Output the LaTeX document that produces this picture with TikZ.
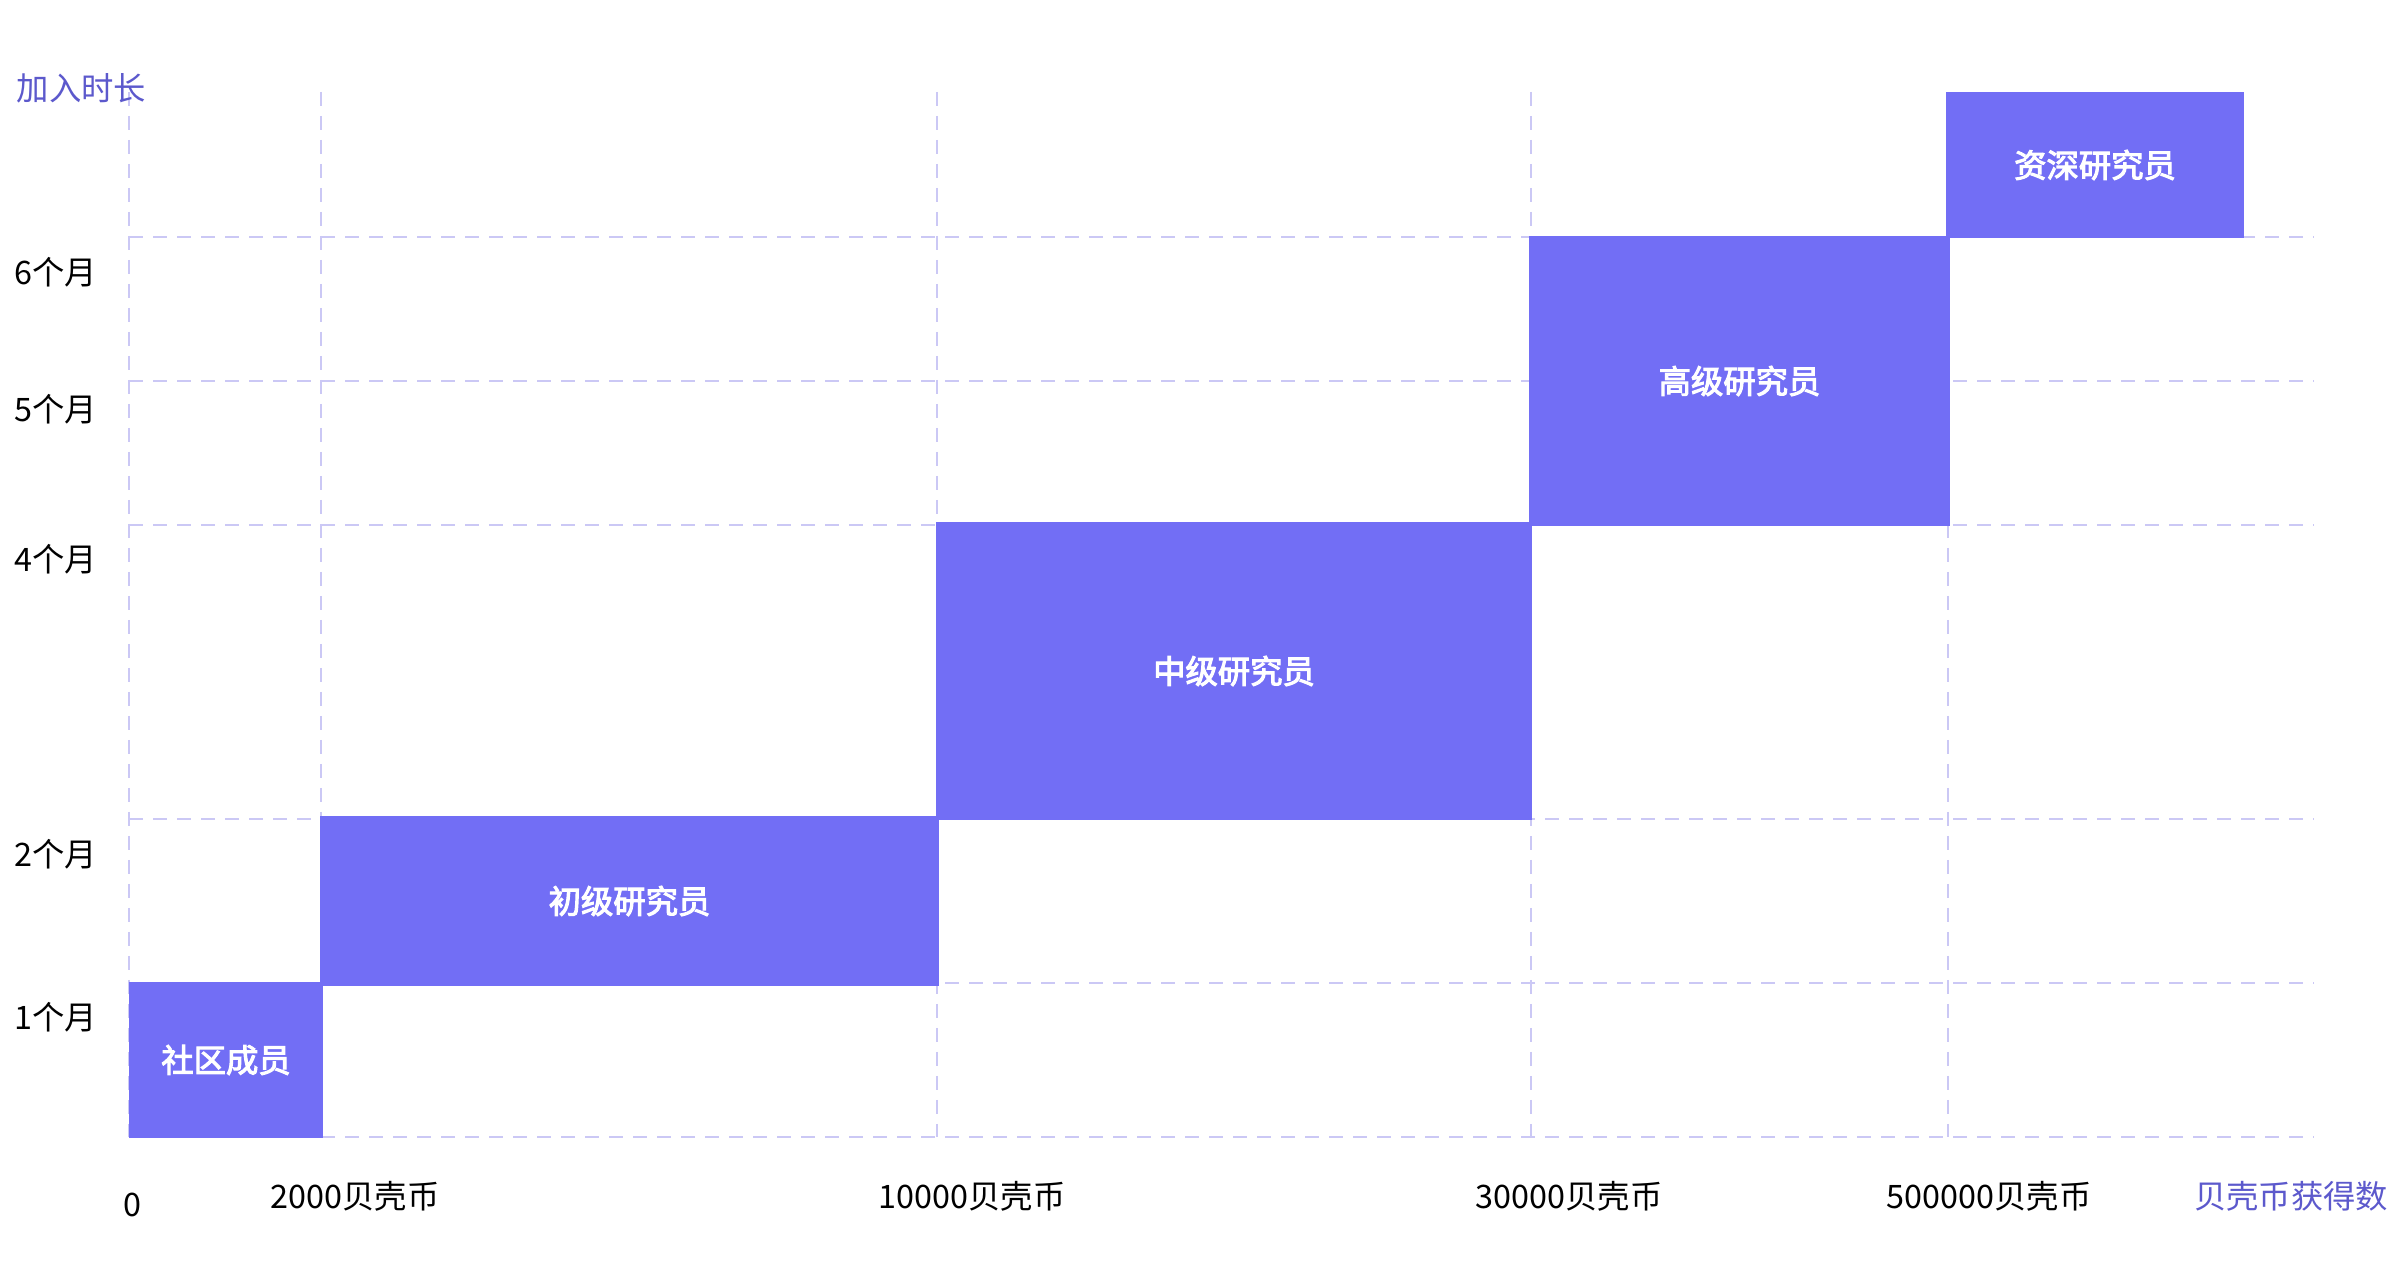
\documentclass[tikz,border=0pt]{standalone}
\usepackage{fontspec}
\setmainfont{Noto Sans CJK SC}
\usepackage{tikz}
\definecolor{boxfill}{HTML}{726EF5}
\definecolor{gridcol}{HTML}{CBC8F5}
\definecolor{titlecol}{HTML}{5C59CC}
% medium weight for the white box labels
\newcommand{\medlabel}[1]{\special{pdf:literal direct 2 Tr 0.3 w 1 1 1 RG}#1\special{pdf:literal direct 0 Tr}}

\begin{document}
\begin{tikzpicture}[x=0.1mm,y=-0.1mm,
  dashline/.style={draw=gridcol,line width=0.2mm,dash pattern=on 1.4mm off 1mm},
  level/.style={fill=boxfill,shape=rectangle,inner sep=0pt,text=white,font=\fontsize{9.2pt}{11pt}\selectfont},
  tick/.style={inner sep=0pt,font=\fontsize{9.2pt}{11pt}\selectfont},
  axistitle/.style={inner sep=0pt,text=titlecol,font=\fontsize{9.2pt}{11pt}\selectfont}]
\useasboundingbox (0,0) rectangle (2400,1276);

% grid
\draw[dashline] (129,92) -- (129,1137);
\draw[dashline] (321,92) -- (321,1137);
\draw[dashline] (937,92) -- (937,1137);
\draw[dashline] (1531,92) -- (1531,1137);
\draw[dashline] (1948,92) -- (1948,1137);
\draw[dashline] (129,237) -- (2314,237);
\draw[dashline] (129,381) -- (2314,381);
\draw[dashline] (129,525) -- (2314,525);
\draw[dashline] (129,819) -- (2314,819);
\draw[dashline] (129,983) -- (2314,983);
\draw[dashline] (129,1137) -- (2314,1137);

% levels
\node (member) [level,minimum width=19.4mm,minimum height=15.6mm] at (226,1060) {\medlabel{社区成员}};
\node (junior) [level,minimum width=61.9mm,minimum height=17mm] at (629.5,901) {\medlabel{初级研究员}};
\node (middle) [level,minimum width=59.6mm,minimum height=29.8mm] at (1234,671) {\medlabel{中级研究员}};
\node (senior) [level,minimum width=42.1mm,minimum height=29mm] at (1739.5,381) {\medlabel{高级研究员}};
\node (principal) [level,minimum width=29.8mm,minimum height=14.6mm] at (2095,165) {\medlabel{资深研究员}};

% axes
\node (timetitle) [axistitle,anchor=west] at (16,88) {加入时长};
\node (month6) [tick,anchor=west] at (14,272) {6个月};
\node (month5) [tick,anchor=west] at (14,409) {5个月};
\node (month4) [tick,anchor=west] at (14,559) {4个月};
\node (month2) [tick,anchor=west] at (14,854) {2个月};
\node (month1) [tick,anchor=west] at (14,1017) {1个月};

\node (origin) [tick] at (132,1205) {0};
\node (coin2k) [tick] at (355,1196) {2000贝壳币};
\node (coin10k) [tick] at (972,1196) {10000贝壳币};
\node (coin30k) [tick] at (1569,1196) {30000贝壳币};
\node (coin500k) [tick] at (1989,1196) {500000贝壳币};
\node (cointitle) [axistitle] at (2291,1196) {贝壳币获得数};

\end{tikzpicture}
\end{document}
